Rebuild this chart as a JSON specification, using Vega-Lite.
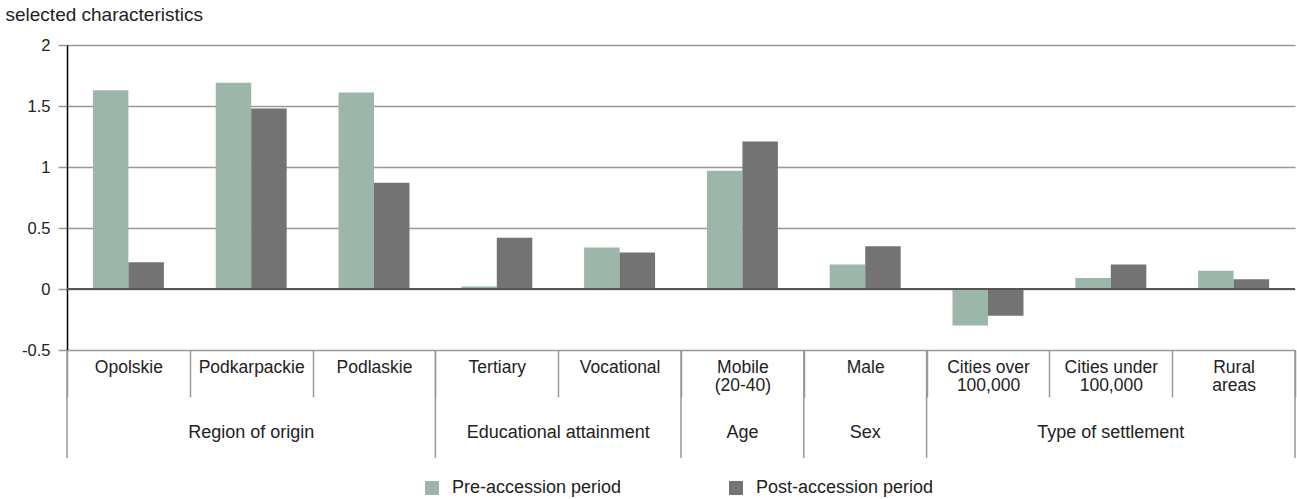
{
  "$schema": "https://vega.github.io/schema/vega-lite/v6.json",
  "width": 1228,
  "height": 305,
  "autosize": {"type": "none"},
  "padding": {"left": 67, "top": 45, "right": 2, "bottom": 149},
  "background": "white",
  "config": {"font": "Liberation Sans", "view": {"stroke": null}},
  "datasets": {
    "bars": [
      {"cat": "Opolskie", "period": "Pre-accession period", "value": 1.63},
      {"cat": "Opolskie", "period": "Post-accession period", "value": 0.22},
      {"cat": "Podkarpackie", "period": "Pre-accession period", "value": 1.69},
      {"cat": "Podkarpackie", "period": "Post-accession period", "value": 1.48},
      {"cat": "Podlaskie", "period": "Pre-accession period", "value": 1.61},
      {"cat": "Podlaskie", "period": "Post-accession period", "value": 0.87},
      {"cat": "Tertiary", "period": "Pre-accession period", "value": 0.02},
      {"cat": "Tertiary", "period": "Post-accession period", "value": 0.42},
      {"cat": "Vocational", "period": "Pre-accession period", "value": 0.34},
      {"cat": "Vocational", "period": "Post-accession period", "value": 0.30},
      {"cat": "Mobile (20-40)", "period": "Pre-accession period", "value": 0.97},
      {"cat": "Mobile (20-40)", "period": "Post-accession period", "value": 1.21},
      {"cat": "Male", "period": "Pre-accession period", "value": 0.20},
      {"cat": "Male", "period": "Post-accession period", "value": 0.35},
      {"cat": "Cities over 100,000", "period": "Pre-accession period", "value": -0.30},
      {"cat": "Cities over 100,000", "period": "Post-accession period", "value": -0.22},
      {"cat": "Cities under 100,000", "period": "Pre-accession period", "value": 0.09},
      {"cat": "Cities under 100,000", "period": "Post-accession period", "value": 0.20},
      {"cat": "Rural areas", "period": "Pre-accession period", "value": 0.15},
      {"cat": "Rural areas", "period": "Post-accession period", "value": 0.08}
    ],
    "groups": [
      {"group": "Region of origin", "first": "Opolskie", "middle": "Podkarpackie"},
      {"group": "Educational attainment", "first": "Tertiary", "middle": "Tertiary"},
      {"group": "Age", "first": "Mobile (20-40)", "middle": "Mobile (20-40)"},
      {"group": "Sex", "first": "Male", "middle": "Male"},
      {"group": "Type of settlement", "first": "Cities over 100,000", "middle": "Cities under 100,000"}
    ]
  },
  "layer": [
    {
      "data": {"name": "bars"},
      "mark": {"type": "bar"},
      "encoding": {
        "x": {
          "field": "cat", "type": "nominal",
          "scale": {"domain": ["Opolskie", "Podkarpackie", "Podlaskie", "Tertiary", "Vocational", "Mobile (20-40)", "Male", "Cities over 100,000", "Cities under 100,000", "Rural areas"], "paddingInner": 0, "paddingOuter": 0},
          "axis": {
            "title": null, "orient": "bottom", "labelAngle": 0,
            "domain": true, "domainColor": "#999999", "domainWidth": 1,
            "ticks": true, "tickBand": "extent", "tickSize": 47, "tickColor": "#999999", "tickWidth": 1.5,
            "labelPadding": -39, "labelBaseline": "top", "labelFontSize": 17.5, "labelLineHeight": 18.5, "labelColor": "#222222", "labelLimit": 200,
            "labelExpr": "indexof(['Mobile (20-40)','Cities over 100,000','Cities under 100,000','Rural areas'], datum.value) >= 0 ? [slice(datum.value, 0, lastindexof(datum.value, ' ')), slice(datum.value, lastindexof(datum.value, ' ') + 1)] : datum.value"
          }
        },
        "xOffset": {
          "field": "period", "type": "nominal",
          "scale": {"domain": ["Pre-accession period", "Post-accession period"], "paddingInner": 0, "paddingOuter": 0.73}
        },
        "y": {
          "field": "value", "type": "quantitative",
          "scale": {"domain": [-0.5, 2], "nice": false, "zero": false},
          "axis": {
            "values": [-0.5, 0, 0.5, 1, 1.5, 2],
            "labelExpr": "datum.value == -0.5 ? '-0.5' : format(datum.value, '~g')",
            "domain": true, "domainColor": "#000000", "domainWidth": 1.5,
            "ticks": true, "tickSize": 9, "tickColor": "#999999", "tickWidth": 1.5,
            "labelPadding": 8, "labelFontSize": 16.5, "labelColor": "#222222",
            "grid": true, "gridColor": "#999999", "gridWidth": 1.5,
            "title": "selected characteristics", "titleAngle": 0, "titleAlign": "left", "titleBaseline": "middle",
            "titleX": -62, "titleY": -31, "titleFontSize": 19, "titleFontWeight": "normal", "titleColor": "#222222"
          }
        },
        "color": {
          "field": "period", "type": "nominal",
          "scale": {"domain": ["Pre-accession period", "Post-accession period"], "range": ["#9cb6a9", "#737373"]},
          "legend": {
            "title": null, "orient": "none", "legendX": 356, "legendY": 434, "direction": "horizontal",
            "symbolType": "square", "symbolSize": 196, "symbolStrokeWidth": 0, "symbolOpacity": 1,
            "labelFontSize": 18, "labelColor": "#222222", "labelOffset": 11, "columnPadding": 105, "labelLimit": 300
          }
        }
      }
    },
    {
      "data": {"values": [{"base": 0}]},
      "mark": {"type": "rule", "color": "#555555", "strokeWidth": 2},
      "encoding": {"y": {"field": "base", "type": "quantitative"}}
    },
    {
      "data": {"name": "groups"},
      "mark": {"type": "rule", "color": "#999999", "strokeWidth": 1.5},
      "encoding": {
        "x": {"field": "first", "type": "nominal", "bandPosition": 0},
        "y": {"datum": -0.5},
        "y2": {"datum": -1.385}
      }
    },
    {
      "data": {"values": [{"last": "Rural areas"}]},
      "mark": {"type": "rule", "color": "#999999", "strokeWidth": 1.5},
      "encoding": {
        "x": {"field": "last", "type": "nominal", "bandPosition": 1},
        "y": {"datum": -0.5},
        "y2": {"datum": -1.385}
      }
    },
    {
      "data": {"name": "groups"},
      "transform": [{"filter": "datum.group != 'Educational attainment'"}],
      "mark": {"type": "text", "fontSize": 18, "color": "#222222", "baseline": "middle", "align": "center"},
      "encoding": {
        "x": {"field": "middle", "type": "nominal", "bandPosition": 0.5},
        "y": {"datum": -1.18},
        "text": {"field": "group"}
      }
    },
    {
      "data": {"name": "groups"},
      "transform": [{"filter": "datum.group == 'Educational attainment'"}],
      "mark": {"type": "text", "fontSize": 18, "color": "#222222", "baseline": "middle", "align": "center"},
      "encoding": {
        "x": {"field": "middle", "type": "nominal", "bandPosition": 1},
        "y": {"datum": -1.18},
        "text": {"field": "group"}
      }
    }
  ]
}
